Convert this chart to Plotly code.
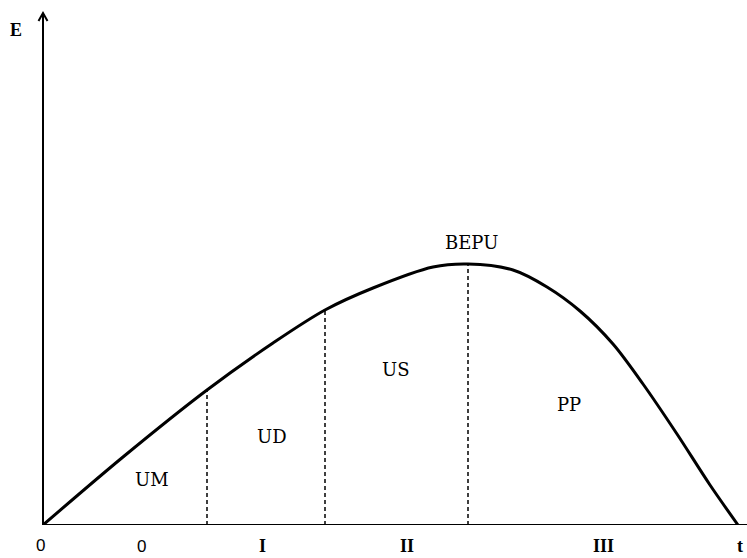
import plotly.graph_objects as go

# Curve E(t)
t_vals = [0, 80, 164, 230, 282, 330, 390, 425, 470, 504, 537, 570, 600, 634, 667, 695]
e_vals = [0, 68, 135, 182, 215, 237, 258, 261, 255, 238, 214, 181, 141, 91, 40, 0]

# Stage boundaries (dashed lines) and their heights on the curve
bound_t = [164, 282, 425]
bound_e = [135, 215, 261]

stage_labels = ["0", "I", "II", "III"]
stage_label_t = [98, 219, 364, 560]

region_labels = ["UM", "UD", "US", "PP", "BEPU"]
region_t = [109, 229, 353, 526, 428]
region_e = [46, 89, 156, 121, 283]

X_MAX = 704
Y_MAX = 515

fig = go.Figure()

fig.add_trace(go.Scatter(x=t_vals, y=e_vals, mode="lines",
                         line=dict(color="black", width=3, shape="spline", smoothing=0.9),
                         hoverinfo="skip", showlegend=False))

for bt, be in zip(bound_t, bound_e):
    fig.add_trace(go.Scatter(x=[bt, bt], y=[0, be], mode="lines",
                             line=dict(color="black", width=1.5, dash="4px,3px"),
                             hoverinfo="skip", showlegend=False))

serif = "DejaVu Serif"
bserif = "Liberation Serif"


def px(v):
    return v / X_MAX


def py(v):
    return v / Y_MAX


annotations = []
annotations.append(dict(x=px(-27), y=py(495), xref="paper", yref="paper", xanchor="center", yanchor="middle",
                        text="<b>E</b>", showarrow=False, font=dict(family=bserif, size=18, color="black")))
annotations.append(dict(x=px(-3), y=py(-20), xref="paper", yref="paper", xanchor="center", yanchor="middle",
                        text="0", showarrow=False, font=dict(family="Liberation Sans", size=17, color="black")))
annotations.append(dict(x=px(697), y=py(-21), xref="paper", yref="paper", xanchor="center", yanchor="middle",
                        text="<b>t</b>", showarrow=False, font=dict(family=bserif, size=18, color="black")))
for lab, lt in zip(stage_labels, stage_label_t):
    if lab == "0":
        fnt = dict(family="Liberation Sans", size=17, color="black")
        txt = lab
    else:
        fnt = dict(family=bserif, size=18, color="black")
        txt = "<b>" + lab + "</b>"
    annotations.append(dict(x=px(lt), y=py(-21), xref="paper", yref="paper", xanchor="center", yanchor="middle",
                            text=txt, showarrow=False, font=fnt))
for lab, rt, re_ in zip(region_labels, region_t, region_e):
    annotations.append(dict(x=rt, y=re_, xref="x", yref="y", xanchor="center", yanchor="middle",
                            text=lab, showarrow=False,
                            font=dict(family=serif, size=18, color="black")))

fig.update_layout(
    width=747, height=558,
    margin=dict(l=43, r=0, t=10, b=33),
    paper_bgcolor="white", plot_bgcolor="white",
    xaxis=dict(range=[0, X_MAX], showgrid=False, zeroline=False, showticklabels=False, ticks="", fixedrange=True),
    yaxis=dict(range=[0, Y_MAX], showgrid=False, zeroline=False, showticklabels=False, ticks="", fixedrange=True),
    annotations=annotations,
    shapes=[
        dict(type="line", xref="x", yref="y", x0=0, y0=0, x1=X_MAX, y1=0, line=dict(color="black", width=2)),
        dict(type="line", xref="paper", yref="paper", x0=0, y0=0, x1=0, y1=py(511), line=dict(color="black", width=2)),
        dict(type="path", xref="paper", yref="paper",
             path=f"M {px(-4.5)},{py(504)} L 0,{py(512)} L {px(4.5)},{py(504)}",
             line=dict(color="black", width=2)),
    ],
)

fig.write_html("out.html", config={"displayModeBar": False},
               post_script="document.body.style.margin='0';document.body.style.padding='0';")
